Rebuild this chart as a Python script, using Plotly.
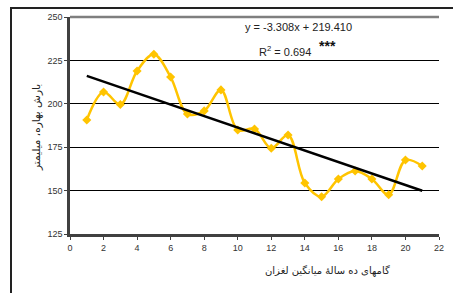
import plotly.graph_objects as go

steps = list(range(1, 22))
rain = [190.7, 206.8, 199.6, 218.9, 228.5, 215.4, 194.1, 195.9, 208.0, 184.9,
        185.5, 174.4, 182.0, 154.4, 146.5, 156.7, 161.3, 156.7, 147.6, 167.6, 164.2]
slope = -3.308
intercept = 219.410
trend_x = [1, 21]
trend_y = [slope * v + intercept for v in trend_x]
x_ticks = list(range(0, 23, 2))
y_ticks = [125, 150, 175, 200, 225, 250]

W, H = 453, 293
ML, MT = 12, 9            # outer frame position
PL, PR, PT, PB = 70, 439, 17, 234   # plot area pixels

pw = W - ML
ph = H - MT
def px(xp):
    return (xp - ML) / pw
def py(yp):
    return (H - yp) / ph

fig = go.Figure()
fig.add_trace(go.Scatter(
    x=steps, y=rain, mode="lines+markers", line=dict(color="#FFC400", width=2.5, shape="spline", smoothing=1.0),
    marker=dict(symbol="diamond", size=7, color="#FFC400"), showlegend=False))
fig.add_trace(go.Scatter(
    x=trend_x, y=trend_y, mode="lines", line=dict(color="black", width=2.5), showlegend=False))
# invisible trace carrying the outer frame axes
fig.add_trace(go.Scatter(x=[0], y=[0], xaxis="x2", yaxis="y2", mode="markers",
                         marker=dict(opacity=0), hoverinfo="skip", showlegend=False))

shapes = [
    dict(type="line", xref="paper", yref="paper", x0=px(PL), x1=px(PR), y0=py(PT), y1=py(PT),
         line=dict(color="#7f7f7f", width=2.5), layer="above"),
]

fig.update_layout(
    width=W, height=H, margin=dict(l=ML, r=0, t=MT, b=0, pad=0),
    paper_bgcolor="white", plot_bgcolor="rgba(0,0,0,0)",
    font=dict(family="Liberation Sans, Arial", size=9, color="#333"),
    xaxis=dict(domain=[px(PL), px(PR)], range=[0, 22], tickvals=x_ticks, showgrid=False, zeroline=False,
               showline=True, linecolor="#404040", linewidth=2.5, ticks="outside", ticklen=3,
               tickcolor="#404040", tickfont=dict(size=9), automargin=False),
    yaxis=dict(domain=[py(PB), py(PT)], range=[125, 250], tickvals=y_ticks, showgrid=True, gridcolor="black", gridwidth=1,
               zeroline=False, showline=True, linecolor="#404040", linewidth=2.5, ticks="outside",
               ticklen=3, tickcolor="#404040", tickfont=dict(size=9), automargin=False),
    xaxis2=dict(domain=[0, 1], anchor="y2", side="top", range=[0, 1], showline=True, linecolor="#222",
                linewidth=1.5, showgrid=False, zeroline=False, showticklabels=False, ticks="", automargin=False),
    yaxis2=dict(domain=[0, 1], anchor="x2", side="left", range=[0, 1], showline=True, linecolor="#222",
                linewidth=1.5, showgrid=False, zeroline=False, showticklabels=False, ticks="", automargin=False),
    shapes=shapes,
    annotations=[
        dict(text="y = -3.308x + 219.410", xref="paper", yref="paper", x=px(298), y=py(27),
             xanchor="center", yanchor="middle", showarrow=False, font=dict(size=11, color="#222")),
        dict(text="R<sup>2</sup> = 0.694", xref="paper", yref="paper", x=px(285), y=py(51),
             xanchor="center", yanchor="middle", showarrow=False, font=dict(size=11, color="#222")),
        dict(text="<b>***</b>", xref="paper", yref="paper", x=px(327), y=py(46),
             xanchor="center", yanchor="middle", showarrow=False, font=dict(size=14, color="#111")),
        dict(text="بارش بهاره، میلیمتر", xref="paper", yref="paper", x=px(36), y=py(128),
             xanchor="center", yanchor="middle",
             textangle=-90, showarrow=False, font=dict(family="DejaVu Sans", size=10.5, color="#222")),
        dict(text="گامهای ده سالهٔ میانگین لغزان", xref="paper", yref="paper", x=px(327), y=py(271),
             xanchor="center", yanchor="middle", showarrow=False, font=dict(family="DejaVu Sans", size=10, color="#222")),
    ],
)

fig.write_html("out.html", config={"displayModeBar": False},
               post_script="document.body.style.margin='0';document.body.style.overflow='hidden';")
